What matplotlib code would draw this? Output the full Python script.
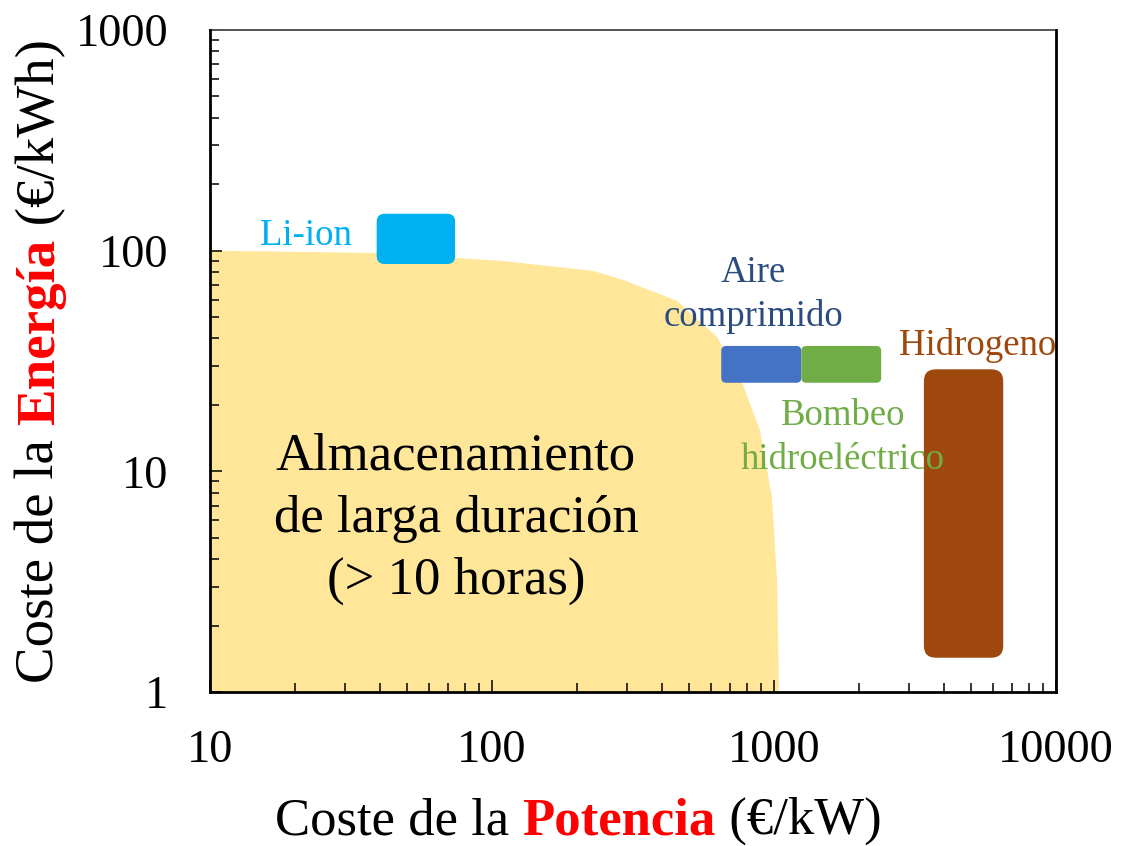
import matplotlib
import matplotlib.pyplot as plt
from matplotlib.patches import FancyBboxPatch
from matplotlib.ticker import LogLocator, NullFormatter

matplotlib.use("Agg")

# long-duration storage region, boundary
region_x = [10, 38.8, 107, 228, 292, 453, 628, 757, 891, 983, 1025, 1042]
region_y = [100, 97.6, 90, 81, 73.7, 59.2, 40.6, 26.8, 15.4, 7.66, 3.22, 1]

# technology boxes: (x_lo, x_hi) in EUR/kW, (y_lo, y_hi) in EUR/kWh
tech_names = ["Li-ion", "Aire comprimido", "Bombeo", "Hidrogeno"]
tech_x = [(39, 74), (650, 1250), (1250, 2400), (3400, 6500)]
tech_y = [(87, 147), (25.2, 37), (25.2, 37), (1.43, 29)]
tech_colors = ["#00B0F0", "#4472C4", "#70AD47", "#9E480E"]
tech_radius = [8, 5, 5, 12]  # corner radius, px

# labels
label_texts = ["Li-ion", "Aire\ncomprimido", "Bombeo\nhidroeléctrico", "Hidrogeno"]
label_x = [21.9, 843, 1757, 5284]
label_y = [117, 63, 14.2, 37]
label_colors = ["#00B0F0", "#2B4C7E", "#70AD47", "#9E480E"]

x_ticks = [10, 100, 1000, 10000]
x_ticklabels = ["10", "100", "1000", "10000"]
y_ticks = [1, 10, 100, 1000]
y_ticklabels = ["1", "10", "100", "1000"]

plt.rcParams["font.family"] = ["Liberation Serif", "DejaVu Serif"]

fig = plt.figure(figsize=(11.22, 8.46), dpi=100)
fig.patch.set_facecolor("white")
ax = fig.add_axes([210 / 1122, 1 - 692 / 846, 846 / 1122, 662 / 846])
ax.set_xscale("log")
ax.set_yscale("log")
ax.set_xlim(10, 10000)
ax.set_ylim(1, 1000)

ax.fill(region_x + [10], region_y + [1], color="#FFE699", lw=0, zorder=1)

# rounded boxes, built in axes coords so the corners stay round on log axes
to_axes = ax.transScale + ax.transLimits
aw, ah = 846, 662
for (x0, x1), (y0, y1), col, r in zip(tech_x, tech_y, tech_colors, tech_radius):
    (ax0, ay0), (ax1, ay1) = to_axes.transform([(x0, y0), (x1, y1)])
    box = FancyBboxPatch(
        (ax0, ay0), ax1 - ax0, ay1 - ay0,
        boxstyle=f"round,pad=0,rounding_size={r / aw}",
        mutation_aspect=aw / ah,
        transform=ax.transAxes, facecolor=col, edgecolor="none", zorder=3,
    )
    ax.add_patch(box)

for txt, x, y, col in zip(label_texts, label_x, label_y, label_colors):
    ax.text(x, y, txt, color=col, fontsize=26.5, ha="center", va="center",
            multialignment="center", linespacing=1.35, zorder=4, clip_on=False)

ax.text(74.5, 6.1, "Almacenamiento\nde larga duración\n(> 10 horas)", fontsize=38,
        ha="center", va="center", multialignment="center", linespacing=1.37, zorder=4)

ax.set_xticks(x_ticks, x_ticklabels)
ax.set_yticks(y_ticks, y_ticklabels)
ax.xaxis.set_minor_locator(LogLocator(base=10, subs=range(2, 10)))
ax.yaxis.set_minor_locator(LogLocator(base=10, subs=range(2, 10)))
ax.xaxis.set_minor_formatter(NullFormatter())
ax.yaxis.set_minor_formatter(NullFormatter())
ax.tick_params(which="both", direction="in", top=False, right=False, width=1.1)
ax.tick_params(which="major", length=8.6, labelsize=33.5)
ax.tick_params(which="minor", length=6.5)
ax.tick_params(axis="x", which="major", pad=27)
ax.tick_params(axis="y", which="major", pad=30)

for side in ["left", "bottom", "right"]:
    ax.spines[side].set_linewidth(2.0)
    ax.spines[side].set_zorder(6)
ax.spines["top"].set_linewidth(1.4)
ax.spines["top"].set_color("#555555")


def chained_label(pieces, start, vertical, size):
    # pieces of one label in different colour/weight, laid out one after another
    last = None
    for text, color, weight in pieces:
        kw = dict(color=color, fontsize=size, fontweight=weight, ha="left", va="baseline")
        if vertical:
            kw.update(rotation=90, rotation_mode="anchor")
        if last is None:
            last = fig.text(start[0], start[1], text, transform=None, **kw)
        elif vertical:
            last = ax.annotate(text, xy=(start[0], 1), xycoords=("figure pixels", last),
                               annotation_clip=False, **kw)
        else:
            last = ax.annotate(text, xy=(1, start[1]), xycoords=(last, "figure pixels"),
                               annotation_clip=False, **kw)


chained_label(
    [("Coste de la\u00a0", "black", "normal"), ("Potencia", "red", "bold"),
     ("\u00a0(€/kW)", "black", "normal")],
    (275, 846 - 834), vertical=False, size=38,
)
chained_label(
    [("Coste de la\u00a0", "black", "normal"), ("Energía", "red", "bold"),
     ("\u00a0(€/kWh)", "black", "normal")],
    (846 - 792, 846 - 683), vertical=True, size=39.5,
)

fig.savefig("out.png", dpi=100, facecolor="white")
